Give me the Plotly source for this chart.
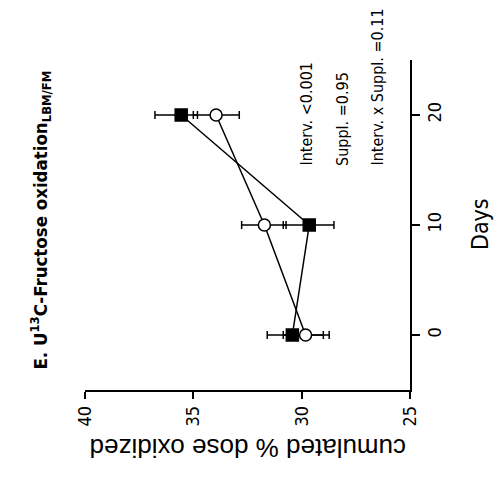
import plotly.graph_objects as go

W, H = 502, 483
days = [0, 10, 20]
filled_mean = [30.43, 29.65, 35.56]
filled_hi = [31.59, 30.85, 36.77]
filled_lo = [29.00, 28.51, 34.81]
open_mean = [29.82, 31.72, 33.95]
open_hi = [30.85, 32.77, 35.00]
open_lo = [28.73, 30.72, 32.88]
value_ticks = [25, 30, 35, 40]
day_ticks = [0, 10, 20]

NARROW = "DejaVu Sans Condensed, Liberation Sans, Arial, sans-serif"
REG = "Liberation Sans, Arial, sans-serif"


def px(x):
    return x / W


def py(y):
    return 1 - y / H


fig = go.Figure()
for mean, hi, lo, sym, fill in [
    (filled_mean, filled_hi, filled_lo, "square", "black"),
    (open_mean, open_hi, open_lo, "circle", "white"),
]:
    fig.add_trace(go.Scatter(
        x=mean, y=days, mode="lines+markers",
        line=dict(color="black", width=1.5),
        marker=dict(symbol=sym, size=12, color=fill, line=dict(color="black", width=1.5)),
        error_x=dict(type="data", symmetric=False,
                     array=[h - m for h, m in zip(hi, mean)],
                     arrayminus=[m - l for m, l in zip(mean, lo)],
                     color="black", thickness=1.5, width=4),
        showlegend=False,
    ))

fig.update_layout(
    width=W, height=H, margin=dict(l=0, r=0, t=0, b=0, autoexpand=False),
    paper_bgcolor="white", plot_bgcolor="white",
    xaxis=dict(domain=[px(85), px(410)], range=[40, 25], tickvals=value_ticks,
               showline=True, linecolor="black", linewidth=1.5, ticks="outside",
               ticklen=7, tickwidth=1.5, tickcolor="black", tickangle=-90,
               showgrid=False, zeroline=False, side="bottom", automargin=False,
               tickfont=dict(family=NARROW, size=18, color="black")),
    yaxis=dict(domain=[py(390), py(60)], range=[-5, 25], tickvals=day_ticks,
               showline=True, linecolor="black", linewidth=1.5, ticks="outside",
               ticklen=8, tickwidth=1.5, tickcolor="black", tickangle=-90,
               showgrid=False, zeroline=False, side="right", automargin=False,
               tickfont=dict(family=NARROW, size=18, color="black")),
)

ann = []
ann.append(dict(x=px(41), y=py(372), xref="paper", yref="paper", xanchor="center", yanchor="bottom",
                textangle=-90, showarrow=False,
                text="<b>E. U<sup>13</sup>C-Fructose oxidation<sub>LBM/FM</sub></b>",
                font=dict(family=NARROW, size=18.5, color="black")))
for xc, t in [(306, "Interv. &lt;0.001"), (342, "Suppl. =0.95"), (377, "Interv. x Suppl. =0.11")]:
    ann.append(dict(x=px(xc), y=py(168), xref="paper", yref="paper", xanchor="center", yanchor="bottom",
                    textangle=-90, showarrow=False, text=t,
                    font=dict(family=NARROW, size=16, color="black")))
ann.append(dict(x=px(480), y=py(224), xref="paper", yref="paper", xanchor="center", yanchor="middle",
                textangle=-90, showarrow=False, text="Days",
                font=dict(family=NARROW, size=23, color="black")))
ann.append(dict(x=px(248), y=py(448), xref="paper", yref="paper", xanchor="center", yanchor="middle",
                textangle=180, showarrow=False, text="cumulated % dose oxidized",
                font=dict(family=REG, size=26, color="black")))
fig.update_layout(annotations=ann)

fig.write_html("out.html")
